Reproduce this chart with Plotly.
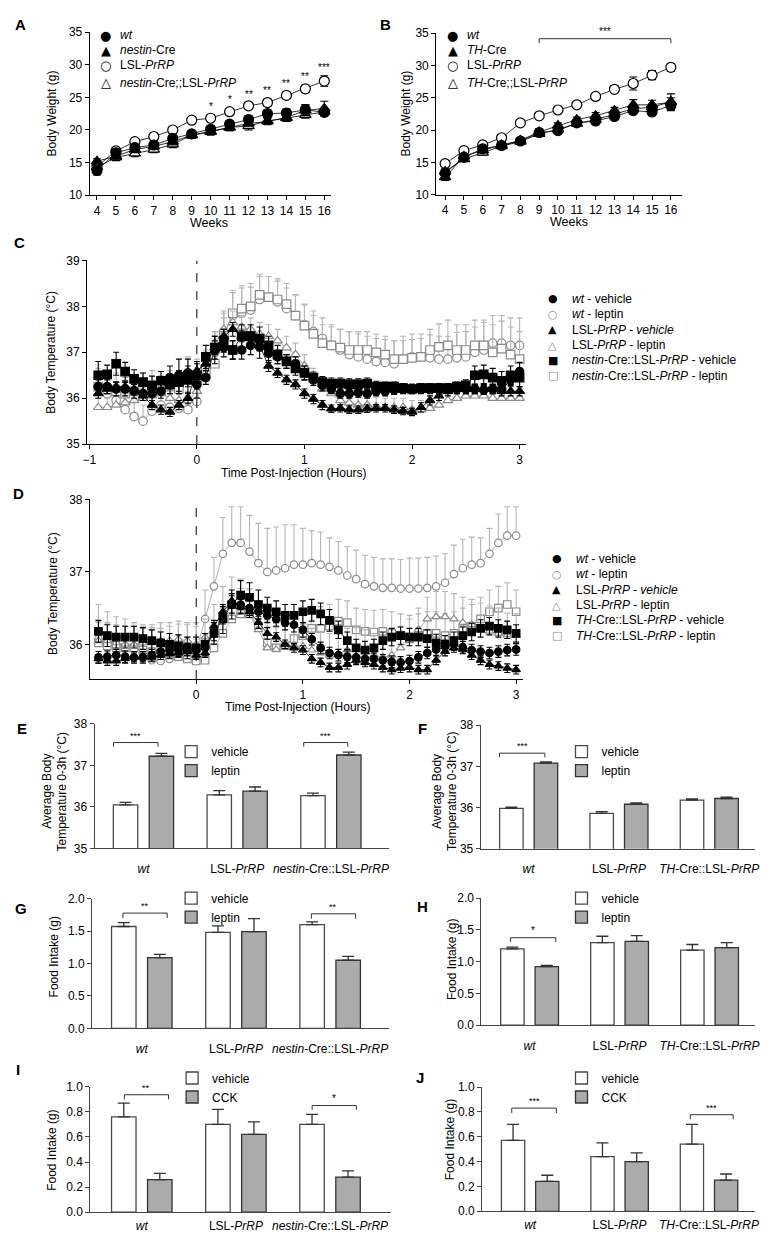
import plotly.graph_objects as go

W, H = 768, 1235
FONT = "Liberation Sans, Arial, Helvetica, sans-serif"
GLYPH = "DejaVu Sans, sans-serif"

# ======================= DATA =======================
weeks = [4, 5, 6, 7, 8, 9, 10, 11, 12, 13, 14, 15, 16]

# Panel A (nestin)
A_wt = [13.8, 16.5, 17.3, 17.7, 18.7, 19.4, 20.1, 20.9, 21.6, 22.5, 22.6, 23.1, 22.7]
A_wt_err = [0.7, 0.6, 0.4, 0.4, 0.5, 0.5, 0.5, 0.5, 0.6, 0.6, 0.6, 0.8, 0.5]
A_nes = [15.2, 16.0, 17.0, 17.5, 18.2, 19.2, 19.8, 20.4, 21.0, 21.3, 21.9, 23.0, 23.3]
A_nes_err = [0.4, 0.6, 0.5, 0.5, 0.5, 0.5, 0.5, 0.5, 0.5, 0.5, 0.5, 0.8, 1.1]
A_lsl = [14.4, 16.8, 18.2, 19.0, 20.0, 21.5, 21.8, 22.8, 23.7, 24.2, 25.3, 26.3, 27.5]
A_lsl_err = [0.4, 0.5, 0.4, 0.5, 0.5, 0.4, 0.5, 0.5, 0.5, 0.5, 0.5, 0.6, 0.8]
A_nlsl = [14.3, 15.8, 16.4, 17.0, 17.8, 19.2, 19.7, 20.4, 20.6, 21.4, 21.8, 22.3, 22.8]
A_nlsl_err = [0.4, 0.5, 0.5, 0.5, 0.5, 0.5, 0.5, 0.5, 0.6, 0.5, 0.5, 0.5, 0.5]
A_sig_weeks = [10, 11, 12, 13, 14, 15, 16]
A_sig_labels = ["*", "*", "**", "**", "**", "**", "***"]

# Panel B (TH)
B_wt = [13.3, 15.8, 17.1, 17.6, 18.3, 19.6, 19.9, 21.1, 21.4, 22.1, 23.0, 22.8, 23.8]
B_wt_err = [0.6, 0.4, 0.4, 0.4, 0.4, 0.4, 0.4, 0.4, 0.4, 0.4, 0.5, 0.5, 0.6]
B_th = [12.7, 15.9, 16.9, 17.7, 18.4, 19.7, 20.7, 21.6, 22.2, 23.0, 23.9, 23.9, 24.3]
B_th_err = [0.5, 0.4, 0.4, 0.4, 0.4, 0.5, 0.4, 0.4, 0.5, 0.5, 0.8, 0.7, 1.3]
B_lsl = [14.8, 16.8, 17.7, 18.8, 21.1, 22.2, 23.1, 23.9, 25.2, 26.3, 27.2, 28.5, 29.7]
B_lsl_err = [0.4, 0.4, 0.5, 0.5, 0.4, 0.4, 0.4, 0.4, 0.4, 0.4, 1.0, 0.7, 0.6]
B_tlsl = [13.6, 15.5, 16.5, 17.5, 18.2, 19.4, 20.1, 21.0, 21.6, 22.5, 23.3, 23.5, 24.4]
B_tlsl_err = [0.4, 0.4, 0.4, 0.4, 0.4, 0.4, 0.4, 0.4, 0.4, 0.5, 0.5, 0.5, 0.6]
B_sig_span = [9, 16]
B_sig_label = "***"

# Time axis for panels C and D (minutes relative to injection)
minutes = [-55, -50, -45, -40, -35, -30, -25, -20, -15, -10, -5, 0,
           5, 10, 15, 20, 25, 30, 35, 40, 45, 50, 55, 60,
           65, 70, 75, 80, 85, 90, 95, 100, 105, 110, 115, 120,
           125, 130, 135, 140, 145, 150, 155, 160, 165, 170, 175, 180]

# Panel C (nestin-Cre) body temperature
C_wt_veh = [36.25, 36.25, 36.2, 36.2, 36.15, 36.1, 36.1, 36.15, 36.45, 36.5, 36.55, 36.3,
            36.45, 37.05, 37.1, 37.05, 37.05, 37.15, 37.12, 36.98, 36.9, 36.8, 36.75, 36.55,
            36.4, 36.28, 36.2, 36.1, 36.1, 36.12, 36.1, 36.15, 36.15, 36.18, 36.2, 36.2,
            36.2, 36.2, 36.2, 36.2, 36.2, 36.2, 36.2, 36.18, 36.2, 36.2, 36.4, 36.58]
C_wt_veh_err = [0.15, 0.15, 0.15, 0.15, 0.15, 0.15, 0.15, 0.15, 0.25, 0.35, 0.3, 0.3,
                0.15, 0.3, 0.2, 0.2, 0.2, 0.2, 0.25, 0.2, 0.15, 0.15, 0.15, 0.15,
                0.12, 0.12, 0.1, 0.1, 0.1, 0.1, 0.1, 0.1, 0.1, 0.1, 0.1, 0.1,
                0.1, 0.1, 0.1, 0.1, 0.1, 0.1, 0.1, 0.1, 0.1, 0.1, 0.12, 0.2]
C_wt_lep = [36.25, 36.1, 35.95, 35.75, 35.6, 35.5, 35.72, 35.85, 35.8, 35.78, 35.75, 35.93,
            36.65, 37.0, 37.4, 37.8, 37.85, 37.92, 38.15, 38.2, 38.1, 37.95, 37.8, 37.6,
            37.45, 37.3, 37.15, 37.05, 36.95, 36.9, 36.85, 36.8, 36.78, 36.75, 36.85, 36.9,
            36.9, 36.88, 36.85, 36.85, 36.88, 36.9, 37.0, 37.05, 37.2, 37.2, 37.15, 37.15]
C_wt_lep_err = [0.35, 0.35, 0.4, 0.4, 0.4, 0.35, 0.35, 0.35, 0.3, 0.3, 0.3, 0.3,
                0.4, 0.45, 0.5, 0.5, 0.55, 0.5, 0.5, 0.45, 0.45, 0.45, 0.45, 0.45,
                0.45, 0.45, 0.45, 0.45, 0.5, 0.5, 0.5, 0.5, 0.5, 0.5, 0.5, 0.5,
                0.5, 0.5, 0.5, 0.5, 0.55, 0.55, 0.55, 0.6, 0.6, 0.6, 0.6, 0.6]
C_lsl_veh = [36.1, 36.2, 36.25, 36.25, 36.2, 36.05, 35.85, 35.75, 35.7, 35.85, 36.0, 36.6,
             36.75, 37.1, 37.35, 37.5, 37.35, 37.3, 37.15, 36.7, 36.55, 36.4, 36.3, 36.1,
             35.98, 35.85, 35.77, 35.78, 35.75, 35.75, 35.77, 35.78, 35.78, 35.75, 35.72, 35.7,
             35.8, 35.95, 36.05, 36.15, 36.2, 36.2, 36.2, 36.2, 36.2, 36.15, 36.15, 36.15]
C_lsl_veh_err = [0.1, 0.1, 0.1, 0.1, 0.1, 0.1, 0.1, 0.1, 0.1, 0.1, 0.12, 0.15,
                 0.15, 0.15, 0.15, 0.15, 0.12, 0.12, 0.12, 0.12, 0.1, 0.1, 0.1, 0.1,
                 0.1, 0.1, 0.08, 0.08, 0.08, 0.08, 0.08, 0.08, 0.08, 0.08, 0.08, 0.08,
                 0.1, 0.1, 0.1, 0.1, 0.1, 0.1, 0.1, 0.1, 0.1, 0.1, 0.1, 0.1]
C_lsl_lep = [35.8, 35.8, 35.85, 35.9, 35.95, 36.0, 36.05, 36.1, 36.0, 35.95, 35.95, 36.15,
             36.75, 37.2, 37.5, 37.65, 37.55, 37.5, 37.4, 37.35, 37.25, 37.1, 36.95, 36.7,
             36.45, 36.2, 36.1, 35.95, 35.9, 35.85, 35.85, 35.82, 35.8, 35.8, 35.8, 35.75,
             35.75, 35.78, 35.85, 35.95, 36.0, 36.05, 36.05, 36.05, 36.0, 36.0, 36.0, 36.0]
C_lsl_lep_err = [0.2, 0.2, 0.2, 0.2, 0.2, 0.2, 0.2, 0.2, 0.2, 0.2, 0.2, 0.2,
                 0.25, 0.25, 0.25, 0.25, 0.25, 0.25, 0.25, 0.25, 0.25, 0.25, 0.25, 0.25,
                 0.2, 0.2, 0.2, 0.2, 0.2, 0.2, 0.2, 0.2, 0.2, 0.2, 0.2, 0.2,
                 0.2, 0.2, 0.2, 0.2, 0.2, 0.2, 0.2, 0.2, 0.2, 0.2, 0.2, 0.2]
C_nes_veh = [36.5, 36.52, 36.75, 36.58, 36.42, 36.35, 36.28, 36.38, 36.3, 36.35, 36.4, 36.5,
             36.9, 37.1, 37.25, 37.05, 37.35, 37.35, 37.3, 37.15, 36.95, 36.8, 36.65, 36.55,
             36.45, 36.35, 36.32, 36.32, 36.3, 36.3, 36.32, 36.25, 36.25, 36.25, 36.22, 36.2,
             36.22, 36.22, 36.22, 36.22, 36.25, 36.28, 36.5, 36.52, 36.45, 36.38, 36.5, 36.45]
C_nes_veh_err = [0.3, 0.2, 0.25, 0.2, 0.2, 0.2, 0.2, 0.2, 0.2, 0.25, 0.3, 0.3,
                 0.25, 0.25, 0.25, 0.2, 0.25, 0.25, 0.25, 0.2, 0.2, 0.15, 0.15, 0.15,
                 0.12, 0.12, 0.12, 0.12, 0.12, 0.12, 0.12, 0.12, 0.1, 0.1, 0.1, 0.1,
                 0.1, 0.1, 0.1, 0.1, 0.1, 0.12, 0.2, 0.2, 0.2, 0.2, 0.2, 0.2]
C_nes_lep = [36.25, 36.2, 36.15, 36.1, 36.15, 36.2, 36.25, 36.15, 36.25, 36.2, 36.5, 36.45,
             36.6, 36.75, 37.35, 37.85, 37.95, 38.0, 38.25, 38.2, 38.15, 38.05, 37.8, 37.58,
             37.4, 37.2, 37.15, 37.1, 37.05, 37.05, 37.05, 37.0, 36.95, 36.85, 36.85, 36.88,
             36.9, 37.05, 37.12, 37.15, 37.05, 37.05, 37.15, 37.15, 37.0, 37.08, 36.95, 36.85]
C_nes_lep_err = [0.4, 0.4, 0.4, 0.35, 0.35, 0.35, 0.35, 0.35, 0.35, 0.35, 0.4, 0.4,
                 0.4, 0.45, 0.5, 0.5, 0.5, 0.5, 0.45, 0.45, 0.45, 0.45, 0.45, 0.45,
                 0.4, 0.4, 0.4, 0.4, 0.4, 0.4, 0.4, 0.4, 0.4, 0.4, 0.4, 0.4,
                 0.4, 0.45, 0.5, 0.55, 0.55, 0.55, 0.55, 0.55, 0.6, 0.6, 0.6, 0.6]

# Panel D (TH-Cre) body temperature
D_wt_veh = [35.82, 35.83, 35.85, 35.83, 35.82, 35.82, 35.85, 35.9, 35.92, 35.92, 35.93, 35.92,
            35.95, 36.15, 36.4, 36.55, 36.55, 36.5, 36.45, 36.4, 36.35, 36.3, 36.27, 36.2,
            36.07, 35.95, 35.88, 35.85, 35.83, 35.82, 35.8, 35.8, 35.78, 35.76, 35.75, 35.77,
            35.82, 35.88, 35.93, 35.97, 36.0, 35.96, 35.92, 35.9, 35.88, 35.9, 35.92, 35.93]
D_wt_veh_err = [0.08, 0.08, 0.08, 0.08, 0.08, 0.08, 0.08, 0.08, 0.08, 0.08, 0.08, 0.08,
                0.08, 0.1, 0.12, 0.12, 0.12, 0.1, 0.1, 0.1, 0.1, 0.1, 0.1, 0.1,
                0.08, 0.08, 0.08, 0.08, 0.08, 0.08, 0.08, 0.08, 0.08, 0.08, 0.08, 0.08,
                0.08, 0.08, 0.08, 0.08, 0.08, 0.08, 0.08, 0.08, 0.08, 0.08, 0.08, 0.08]
D_wt_lep = [36.07, 36.05, 36.0, 35.97, 35.95, 35.9, 35.78, 35.77, 35.8, 35.83, 35.87, 35.9,
            36.35, 36.8, 37.25, 37.4, 37.4, 37.28, 37.12, 37.0, 37.02, 37.05, 37.1, 37.1,
            37.12, 37.1, 37.07, 37.02, 36.95, 36.9, 36.83, 36.8, 36.78, 36.78, 36.77, 36.77,
            36.77, 36.78, 36.8, 36.85, 36.97, 37.05, 37.1, 37.12, 37.25, 37.4, 37.5, 37.5]
D_wt_lep_err = [0.48, 0.4, 0.38, 0.38, 0.35, 0.35, 0.45, 0.45, 0.45, 0.45, 0.4, 0.4,
                0.4, 0.4, 0.5, 0.5, 0.5, 0.5, 0.55, 0.6, 0.6, 0.6, 0.55, 0.5,
                0.45, 0.45, 0.4, 0.4, 0.4, 0.4, 0.4, 0.4, 0.4, 0.4, 0.4, 0.42,
                0.42, 0.42, 0.42, 0.4, 0.4, 0.4, 0.38, 0.35, 0.35, 0.4, 0.4, 0.4]
D_lsl_veh = [35.8, 35.77, 35.77, 35.8, 35.82, 35.82, 35.82, 35.85, 35.87, 35.88, 35.9, 35.85,
             35.88, 36.25, 36.45, 36.6, 36.52, 36.45, 36.3, 36.15, 36.1, 36.0, 35.95, 35.92,
             35.8, 35.75, 35.68, 35.68, 35.72, 35.78, 35.75, 35.72, 35.68, 35.65, 35.67, 35.68,
             35.65, 35.65, 35.78, 35.9, 35.95, 35.93, 35.85, 35.78, 35.72, 35.7, 35.67, 35.65]
D_lsl_veh_err = [0.06, 0.06, 0.06, 0.06, 0.06, 0.06, 0.06, 0.06, 0.06, 0.06, 0.06, 0.06,
                 0.06, 0.08, 0.1, 0.1, 0.1, 0.08, 0.08, 0.08, 0.06, 0.06, 0.06, 0.06,
                 0.06, 0.06, 0.06, 0.06, 0.06, 0.06, 0.06, 0.06, 0.06, 0.06, 0.06, 0.06,
                 0.06, 0.06, 0.06, 0.06, 0.06, 0.06, 0.06, 0.06, 0.06, 0.06, 0.06, 0.06]
D_lsl_lep = [36.05, 36.05, 36.02, 36.0, 36.0, 36.02, 36.02, 36.05, 36.05, 36.07, 36.05, 36.0,
             36.1, 36.25, 36.45, 36.58, 36.55, 36.4, 36.2, 35.95, 35.93, 35.97, 35.98, 35.97,
             35.92, 35.88, 35.85, 35.87, 35.92, 35.93, 35.9, 35.85, 35.82, 35.85, 35.95, 36.05,
             36.2, 36.35, 36.38, 36.38, 36.35, 36.3, 36.27, 36.22, 36.18, 36.15, 36.13, 36.12]
D_lsl_lep_err = [0.25, 0.25, 0.25, 0.25, 0.25, 0.25, 0.25, 0.25, 0.25, 0.25, 0.25, 0.25,
                 0.25, 0.3, 0.35, 0.35, 0.35, 0.35, 0.3, 0.3, 0.3, 0.3, 0.3, 0.3,
                 0.3, 0.3, 0.3, 0.3, 0.3, 0.3, 0.3, 0.3, 0.3, 0.3, 0.3, 0.3,
                 0.3, 0.3, 0.35, 0.35, 0.35, 0.35, 0.35, 0.35, 0.35, 0.35, 0.3, 0.3]
D_th_veh = [36.18, 36.12, 36.1, 36.1, 36.1, 36.08, 36.05, 36.02, 36.0, 35.98, 35.95, 35.95,
            36.0, 36.15, 36.35, 36.55, 36.68, 36.65, 36.55, 36.5, 36.45, 36.4, 36.4, 36.45,
            36.47, 36.42, 36.33, 36.2, 36.05, 35.95, 35.92, 35.95, 36.05, 36.1, 36.12, 36.1,
            36.1, 36.08, 36.02, 36.0, 36.05, 36.12, 36.17, 36.22, 36.25, 36.22, 36.2, 36.15]
D_th_veh_err = [0.15, 0.15, 0.15, 0.15, 0.15, 0.15, 0.15, 0.15, 0.15, 0.15, 0.15, 0.15,
                0.15, 0.15, 0.2, 0.2, 0.2, 0.2, 0.2, 0.15, 0.15, 0.15, 0.15, 0.15,
                0.15, 0.15, 0.15, 0.12, 0.12, 0.12, 0.12, 0.12, 0.12, 0.12, 0.12, 0.12,
                0.12, 0.12, 0.12, 0.12, 0.12, 0.12, 0.12, 0.12, 0.12, 0.12, 0.12, 0.12]
D_th_lep = [36.02, 35.98, 35.95, 35.95, 35.95, 35.92, 35.9, 35.88, 35.85, 35.83, 35.8, 35.77,
            35.78, 35.95, 36.15, 36.35, 36.42, 36.42, 36.25, 36.02, 35.95, 35.98, 36.08, 36.12,
            36.22, 36.22, 36.25, 36.32, 36.3, 36.2, 36.18, 36.17, 36.18, 36.15, 36.12, 36.1,
            36.12, 36.15, 36.15, 36.12, 36.15, 36.2, 36.25, 36.35, 36.45, 36.5, 36.55, 36.45]
D_th_lep_err = [0.3, 0.3, 0.3, 0.3, 0.3, 0.3, 0.3, 0.3, 0.3, 0.3, 0.3, 0.3,
                0.3, 0.3, 0.35, 0.35, 0.35, 0.35, 0.35, 0.3, 0.3, 0.3, 0.3, 0.3,
                0.3, 0.3, 0.3, 0.3, 0.3, 0.3, 0.3, 0.3, 0.3, 0.3, 0.3, 0.3,
                0.3, 0.3, 0.3, 0.3, 0.3, 0.3, 0.3, 0.3, 0.3, 0.3, 0.3, 0.3]

# Bar panels E-J
groups_nes = ["wt", "LSL-PrRP", "nestin-Cre::LSL-PrRP"]
groups_th = ["wt", "LSL-PrRP", "TH-Cre::LSL-PrRP"]
group_ticktext_nes = ["<i>wt</i>", "LSL-<i>PrRP</i>", "<i>nestin</i>-Cre::LSL-<i>PrRP</i>"]
group_ticktext_th = ["<i>wt</i>", "LSL-<i>PrRP</i>", "<i>TH</i>-Cre::LSL-<i>PrRP</i>"]
group_pos = [0, 1, 2]

E_veh = [36.05, 36.29, 36.27]
E_veh_err = [0.06, 0.1, 0.06]
E_lep = [37.22, 36.38, 37.25]
E_lep_err = [0.07, 0.1, 0.07]
F_veh = [35.98, 35.86, 36.18]
F_veh_err = [0.03, 0.04, 0.03]
F_lep = [37.08, 36.08, 36.22]
F_lep_err = [0.03, 0.03, 0.03]
G_veh = [1.57, 1.48, 1.60]
G_veh_err = [0.06, 0.1, 0.04]
G_lep = [1.09, 1.49, 1.05]
G_lep_err = [0.05, 0.2, 0.06]
H_veh = [1.20, 1.30, 1.18]
H_veh_err = [0.03, 0.1, 0.09]
H_lep = [0.92, 1.32, 1.22]
H_lep_err = [0.02, 0.09, 0.08]
I_veh = [0.76, 0.70, 0.70]
I_veh_err = [0.11, 0.12, 0.08]
I_cck = [0.26, 0.62, 0.28]
I_cck_err = [0.05, 0.1, 0.05]
J_veh = [0.57, 0.44, 0.54]
J_veh_err = [0.13, 0.11, 0.16]
J_cck = [0.24, 0.40, 0.25]
J_cck_err = [0.05, 0.07, 0.05]

# ======================= LAYOUT HELPERS =======================
hours = [m / 60 for m in minutes]


def px(x):
    return x / W


def py(y):
    return 1 - y / H


def ref(n, a):
    return a if n == 1 else f"{a}{n}"


def axkey(n, a):
    return f"{a}axis" if n == 1 else f"{a}axis{n}"


fig = go.Figure()
ann = []
shapes = []
layout = {}

# pixel boxes: left, right, top, bottom
boxes = {
    1: (77.7, 321.7, 17.3, 182.3),
    2: (428.3, 676.7, 18.3, 181.7),
    3: (75.0, 518.6, 248.3, 434.0),
    4: (77.9, 516.0, 490.0, 671.7),
    5: (82.7, 380.0, 717.0, 843.0),
    6: (473.3, 750.7, 718.3, 843.3),
    7: (80.0, 380.0, 893.7, 1025.0),
    8: (474.0, 750.7, 893.3, 1021.7),
    9: (78.3, 382.7, 1084.0, 1211.0),
    10: (474.7, 750.7, 1084.3, 1210.0),
}

tickfont = dict(family=FONT, size=12, color="black")


def make_axes(n, xr, yr, xtv, ytv, xtt=None, ytt=None, linecolor="black", cat=False, catlen=9):
    l, r, t, b = boxes[n]
    xa = dict(domain=[px(l), px(r)], range=xr, anchor=ref(n, "y"), showgrid=False, zeroline=False,
              showline=True, linecolor=linecolor, linewidth=1.2, tickmode="array", tickvals=xtv,
              tickfont=tickfont, fixedrange=True)
    if cat:
        xa.update(ticks="outside", ticklen=catlen, tickcolor="rgba(0,0,0,0)", ticktext=xtt)
    else:
        xa.update(ticks="outside", ticklen=4, tickwidth=1.2, tickcolor=linecolor)
        if xtt is not None:
            xa["ticktext"] = xtt
    ya = dict(domain=[py(b), py(t)], range=yr, anchor=ref(n, "x"), showgrid=False, zeroline=False,
              showline=True, linecolor=linecolor, linewidth=1.2, tickmode="array", tickvals=ytv,
              ticks="outside", ticklen=4, tickwidth=1.2, tickcolor=linecolor, tickfont=tickfont,
              fixedrange=True)
    if ytt is not None:
        ya["ticktext"] = ytt
    layout[axkey(n, "x")] = xa
    layout[axkey(n, "y")] = ya


def text(x, y, s, size=12, xanchor="center", yanchor="middle", angle=0, bold=False,
         color="black", family=FONT):
    if bold:
        s = f"<b>{s}</b>"
    ann.append(dict(x=px(x), y=py(y), xref="paper", yref="paper", text=s, showarrow=False,
                    xanchor=xanchor, yanchor=yanchor, textangle=angle,
                    font=dict(family=family, size=size, color=color)))


def scat(n, x, y, err, symbol, filled, size, edge, line_color, err_color, one_sided=False,
         capw=3, name=""):
    ey = dict(type="data", array=err, color=err_color, thickness=1.1, width=capw, visible=True)
    if one_sided:
        ey.update(symmetric=False, arrayminus=[0 for _ in err])
    fig.add_trace(go.Scatter(
        x=x, y=y, mode="lines+markers", name=name, showlegend=False,
        line=dict(color=line_color, width=0.8),
        marker=dict(symbol=symbol, size=size, color=edge if filled else "white",
                    line=dict(color=edge, width=1.2)),
        error_y=ey, xaxis=ref(n, "x"), yaxis=ref(n, "y"), cliponaxis=False))


def glyph_legend(mx, tx, ys, glyphs, colors, labels, gsize, tsize):
    for y, g, c, lab in zip(ys, glyphs, colors, labels):
        text(mx, y, g, size=gsize, color=c, family=GLYPH)
        text(tx, y, lab, size=tsize, xanchor="left")


def bars(n, veh, veh_err, trt, trt_err, trt_name, legend_key):
    fig.add_trace(go.Bar(
        x=group_pos, y=veh, name="vehicle", legend=legend_key,
        marker=dict(color="white", line=dict(color="#4a4a4a", width=1.3)),
        error_y=dict(type="data", array=veh_err, arrayminus=[0 for _ in veh_err], symmetric=False,
                     color="#333333", thickness=1.3, width=6),
        xaxis=ref(n, "x"), yaxis=ref(n, "y")))
    fig.add_trace(go.Bar(
        x=group_pos, y=trt, name=trt_name, legend=legend_key,
        marker=dict(color="#ababab", line=dict(color="#333333", width=1.3)),
        error_y=dict(type="data", array=trt_err, arrayminus=[0 for _ in trt_err], symmetric=False,
                     color="#333333", thickness=1.3, width=6),
        xaxis=ref(n, "x"), yaxis=ref(n, "y")))


def bracket(n, x0, x1, ytop, ybot, label, size=9):
    shapes.append(dict(type="path", path=f"M {x0},{ybot} L {x0},{ytop} L {x1},{ytop} L {x1},{ybot}",
                       xref=ref(n, "x"), yref=ref(n, "y"), line=dict(color="#333333", width=1)))
    ann.append(dict(x=(x0 + x1) / 2, y=ytop, xref=ref(n, "x"), yref=ref(n, "y"), text=label,
                    showarrow=False, xanchor="center", yanchor="bottom",
                    font=dict(family=FONT, size=size, color="black")))


# ======================= PANEL A =======================
make_axes(1, [3.62, 16.35], [10, 35], weeks, [10, 15, 20, 25, 30, 35])
scat(1, weeks, A_lsl, A_lsl_err, "circle", False, 10, "black", "black", "black", capw=4)
scat(1, weeks, A_nlsl, A_nlsl_err, "triangle-up", False, 10, "black", "black", "black", capw=4)
scat(1, weeks, A_nes, A_nes_err, "triangle-up", True, 10, "black", "black", "black", capw=4)
scat(1, weeks, A_wt, A_wt_err, "circle", True, 10, "black", "black", "black", capw=4)
for wk, lab in zip(A_sig_weeks, A_sig_labels):
    i = weeks.index(wk)
    ann.append(dict(x=wk, y=A_lsl[i] + A_lsl_err[i], xref="x", yref="y", text=lab, showarrow=False,
                    yanchor="bottom", yshift=1, font=dict(family=FONT, size=10, color="#000000")))
glyph_legend(94, 106, [20.7, 35.5, 50.7, 68.5], ["●", "▲", "○", "△"], ["black"] * 4,
             ["<i>wt</i>", "<i>nestin</i>-Cre", "LSL-<i>PrRP</i>", "<i>nestin</i>-Cre;;LSL-<i>PrRP</i>"],
             13, 12)
text(39, 100, "Body Weight (g)", angle=-90)
text(198, 210.7, "Weeks", size=12.5)
text(8, 10, "A", size=15, bold=True)

# ======================= PANEL B =======================
make_axes(2, [3.53, 16.58], [10, 35], weeks, [10, 15, 20, 25, 30, 35])
scat(2, weeks, B_lsl, B_lsl_err, "circle", False, 10, "black", "black", "black", capw=4)
scat(2, weeks, B_tlsl, B_tlsl_err, "triangle-up", False, 10, "black", "black", "black", capw=4)
scat(2, weeks, B_th, B_th_err, "triangle-up", True, 10, "black", "black", "black", capw=4)
scat(2, weeks, B_wt, B_wt_err, "circle", True, 10, "black", "black", "black", capw=4)
bracket(2, B_sig_span[0], B_sig_span[1], 34.13, 33.45, B_sig_label, size=10)
glyph_legend(445, 457, [20.7, 35.5, 50.7, 68.5], ["●", "▲", "○", "△"], ["black"] * 4,
             ["<i>wt</i>", "<i>TH</i>-Cre", "LSL-<i>PrRP</i>", "<i>TH</i>-Cre;;LSL-<i>PrRP</i>"],
             13, 12)
text(397.3, 100, "Body Weight (g)", angle=-90)
text(563, 209.5, "Weeks", size=12.5)
text(377, 10, "B", size=15, bold=True)

# ======================= PANEL C =======================
make_axes(3, [-1.02, 3.055], [35, 39], [-1, 0, 1, 2, 3], [35, 36, 37, 38, 39])
shapes.append(dict(type="line", x0=0, x1=0, y0=35, y1=39, xref="x3", yref="y3",
                   line=dict(color="black", width=1, dash="dash")))
GRAY_E = "#8a8a8a"
GRAY_ERR = "#b5b5b5"
scat(3, hours, C_wt_lep, C_wt_lep_err, "circle", False, 8.5, GRAY_E, "#9a9a9a", GRAY_ERR, True)
scat(3, hours, C_nes_lep, C_nes_lep_err, "square", False, 8.5, GRAY_E, "#9a9a9a", GRAY_ERR, True)
scat(3, hours, C_lsl_lep, C_lsl_lep_err, "triangle-up", False, 8.5, GRAY_E, "#9a9a9a", GRAY_ERR, True)
scat(3, hours, C_wt_veh, C_wt_veh_err, "circle", True, 8.5, "black", "black", "black")
scat(3, hours, C_lsl_veh, C_lsl_veh_err, "triangle-up", True, 8.5, "black", "black", "black")
scat(3, hours, C_nes_veh, C_nes_veh_err, "square", True, 8.5, "black", "black", "black")
glyph_legend(546, 564, [287, 302.6, 318.2, 333.8, 349.4, 365],
             ["●", "○", "▲", "△", "■", "□"],
             ["black", GRAY_E, "black", GRAY_E, "black", GRAY_E],
             ["<i>wt</i> - vehicle", "<i>wt</i> - leptin", "LSL-<i>PrRP - vehicle</i>",
              "LSL-<i>PrRP</i> - leptin", "<i>nestin</i>-Cre::LSL-<i>PrRP</i> - vehicle",
              "<i>nestin</i>-Cre::LSL-<i>PrRP</i> - leptin"], 11, 12)
text(39, 341, "Body Temperature (°C)", angle=-90)
text(284, 463, "Time Post-Injection (Hours)")
text(7, 230, "C", size=15, bold=True)

# ======================= PANEL D =======================
make_axes(4, [-0.996, 3.064], [35.52, 38], [-1, 0, 1, 2, 3], [36, 37, 38])
shapes.append(dict(type="line", x0=0, x1=0, y0=35.52, y1=38, xref="x4", yref="y4",
                   line=dict(color="black", width=1, dash="dash")))
scat(4, hours, D_wt_lep, D_wt_lep_err, "circle", False, 7.5, GRAY_E, "#9a9a9a", GRAY_ERR, True)
scat(4, hours, D_th_lep, D_th_lep_err, "square", False, 7.5, GRAY_E, "#9a9a9a", GRAY_ERR, True)
scat(4, hours, D_lsl_lep, D_lsl_lep_err, "triangle-up", False, 7.5, GRAY_E, "#9a9a9a", GRAY_ERR, True)
scat(4, hours, D_wt_veh, D_wt_veh_err, "circle", True, 7.5, "black", "black", "black")
scat(4, hours, D_lsl_veh, D_lsl_veh_err, "triangle-up", True, 7.5, "black", "black", "black")
scat(4, hours, D_th_veh, D_th_veh_err, "square", True, 7.5, "black", "black", "black")
glyph_legend(550, 568, [550, 565.6, 581.2, 596.8, 612.4, 628],
             ["●", "○", "▲", "△", "■", "□"],
             ["black", GRAY_E, "black", GRAY_E, "black", GRAY_E],
             ["<i>wt</i> - vehicle", "<i>wt</i> - leptin", "LSL-<i>PrRP - vehicle</i>",
              "LSL-<i>PrRP</i> - leptin", "<i>TH</i>-Cre::LSL-<i>PrRP</i> - vehicle",
              "<i>TH</i>-Cre::LSL-<i>PrRP</i> - leptin"], 11, 12)
text(41, 585, "Body Temperature (°C)", angle=-90)
text(288, 700, "Time Post-Injection (Hours)")
text(6, 484, "D", size=15, bold=True)

# ======================= BAR PANELS =======================
BAR_AX = "#444444"
make_axes(5, [-0.52, 2.615], [35, 38], group_pos, [35, 36, 37, 38], group_ticktext_nes, None, BAR_AX, True)
make_axes(6, [-0.53, 2.505], [35, 38], group_pos, [35, 36, 37, 38], group_ticktext_th, None, BAR_AX, True)
make_axes(7, [-0.528, 2.62], [0, 2], group_pos, [0, 0.5, 1, 1.5, 2], group_ticktext_nes,
          ["0.0", "0.5", "1.0", "1.5", "2.0"], BAR_AX, True)
make_axes(8, [-0.535, 2.504], [0, 2], group_pos, [0, 0.5, 1, 1.5, 2], group_ticktext_th,
          ["0.0", "0.5", "1.0", "1.5", "2.0"], BAR_AX, True)
make_axes(9, [-0.546, 2.65], [0, 1], group_pos, [0, 0.2, 0.4, 0.6, 0.8, 1.0], group_ticktext_nes,
          ["0.0", "0.2", "0.4", "0.6", "0.8", "1.0"], BAR_AX, True, catlen=2)
make_axes(10, [-0.537, 2.513], [0, 1], group_pos, [0, 0.2, 0.4, 0.6, 0.8, 1.0], group_ticktext_th,
          ["0.0", "0.2", "0.4", "0.6", "0.8", "1.0"], BAR_AX, True, catlen=2)

bars(5, E_veh, E_veh_err, E_lep, E_lep_err, "leptin", "legend")
bars(6, F_veh, F_veh_err, F_lep, F_lep_err, "leptin", "legend2")
bars(7, G_veh, G_veh_err, G_lep, G_lep_err, "leptin", "legend3")
bars(8, H_veh, H_veh_err, H_lep, H_lep_err, "leptin", "legend4")
bars(9, I_veh, I_veh_err, I_cck, I_cck_err, "CCK", "legend5")
bars(10, J_veh, J_veh_err, J_cck, J_cck_err, "CCK", "legend6")

bracket(5, -0.32, 0.155, 37.55, 37.45, "***")
bracket(5, 2 - 0.29, 2 + 0.18, 37.55, 37.45, "***")
bracket(6, -0.323, 0.18, 37.32, 37.22, "***")
bracket(7, -0.2, 0.27, 1.776, 1.70, "**")
bracket(7, 2 - 0.2, 2 + 0.27, 1.765, 1.69, "**")
bracket(8, -0.213, 0.292, 1.377, 1.31, "*", size=10)
bracket(9, -0.185, 0.284, 0.936, 0.90, "**")
bracket(9, 2 - 0.19, 2 + 0.28, 0.85, 0.817, "*", size=10)
bracket(10, -0.206, 0.293, 0.83, 0.79, "***")
bracket(10, 2 - 0.21, 2 + 0.27, 0.777, 0.74, "***")

legend_pos = {
    "legend": (160, 730.5),
    "legend2": (555, 730.5),
    "legend3": (160, 878.5),
    "legend4": (555, 878.5),
    "legend5": (161, 1060.5),
    "legend6": (555, 1060.5),
}
for key, (lx, ly) in legend_pos.items():
    layout[key] = dict(x=px(lx), y=py(ly), xanchor="left", yanchor="top", bgcolor="rgba(0,0,0,0)",
                       borderwidth=0, font=dict(family=FONT, size=12, color="black"),
                       traceorder="normal", itemclick=False, itemdoubleclick=False)

# two-line y titles of E and F, one annotation per line
text(35, 785, "Average Body", angle=-90)
text(50, 785, "Temperature 0-3h (°C)", angle=-90)
text(429, 785, "Average Body", angle=-90)
text(444, 785, "Temperature 0-3h (°C)", angle=-90)
text(41.7, 953, "Food Intake (g)", angle=-90)
text(444, 955, "Food Intake (g)", angle=-90)
text(39.3, 1148, "Food Intake (g)", angle=-90)
text(442.3, 1138, "Food Intake (g)", angle=-90)

text(9, 722, "E", size=15, bold=True)
text(414, 722, "F", size=15, bold=True)
text(8, 904, "G", size=15, bold=True)
text(414, 902, "H", size=15, bold=True)
text(5, 1067, "I", size=15, bold=True)
text(412, 1075, "J", size=15, bold=True)

fig.update_layout(
    width=W, height=H, margin=dict(l=0, r=0, t=0, b=0), autosize=False,
    paper_bgcolor="white", plot_bgcolor="rgba(0,0,0,0)",
    font=dict(family=FONT, size=12, color="black"),
    showlegend=True, barmode="group", bargap=0.235, bargroupgap=0.32,
    annotations=ann, shapes=shapes, **layout)

fig.write_html("out.html")
